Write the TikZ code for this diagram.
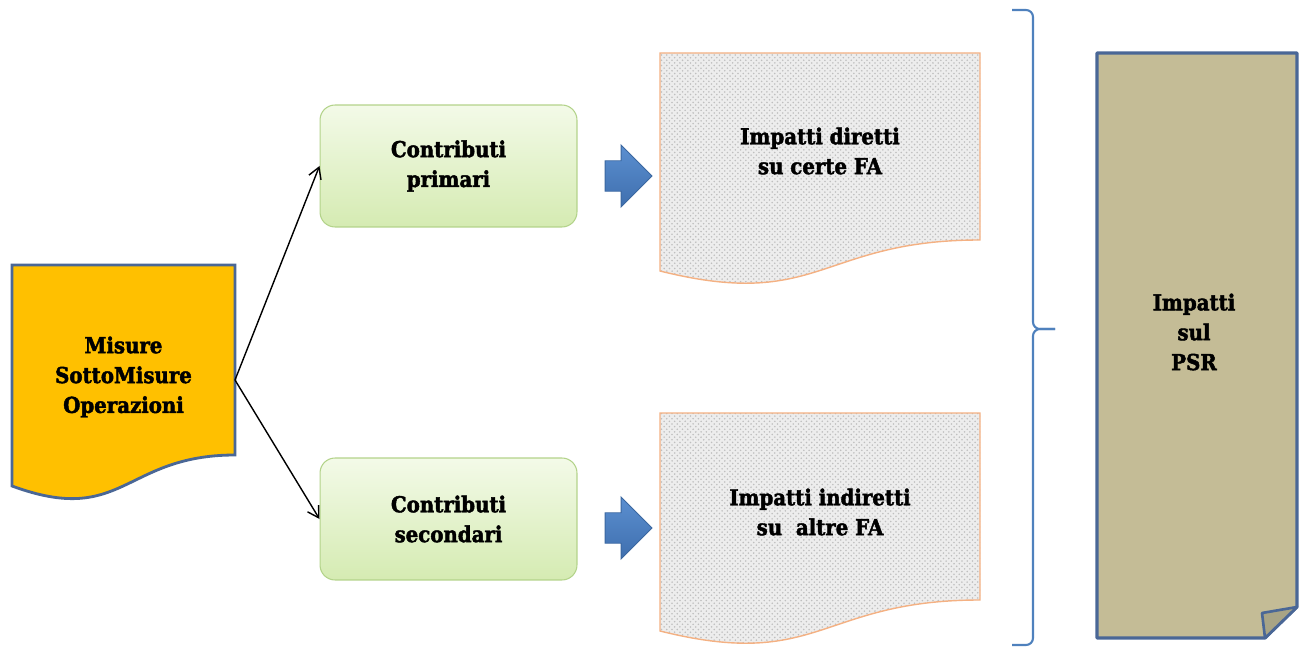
\documentclass[tikz,border=0pt]{standalone}
\usepackage{fontspec}
\setmainfont{DejaVu Serif Condensed}[BoldFeatures={FakeBold=2}]
\usetikzlibrary{arrows.meta}
\usetikzlibrary{patterns}
\usetikzlibrary{shapes.arrows}

\definecolor{misfill}{HTML}{FFC000}
\definecolor{docedge}{HTML}{4A6796}
\definecolor{tanfill}{HTML}{C4BC96}
\definecolor{foldfill}{HTML}{A8A485}
\definecolor{boxtop}{HTML}{F3FAE8}
\definecolor{boxbot}{HTML}{D5EBB2}
\definecolor{boxedge}{HTML}{B3D38A}
\definecolor{grayfill}{HTML}{EDEDED}
\definecolor{grayedge}{HTML}{F4B183}
\definecolor{arrtop}{HTML}{5B8FD0}
\definecolor{arrbot}{HTML}{3F6FAE}
\definecolor{arredge}{HTML}{3A67A0}
\definecolor{bracecol}{HTML}{4F81BD}

\tikzset{
  txt/.style={align=center,font=\fontsize{12.5}{17}\selectfont\bfseries,inner sep=0pt},
  contrib/.style={txt,rounded corners=0.3cm,minimum width=5.14cm,minimum height=2.44cm,
    draw=boxedge,line width=0.6pt,top color=boxtop,bottom color=boxbot},
  blockarr/.style={single arrow,minimum height=0.94cm,minimum width=1.24cm,
    single arrow head extend=0.31cm,inner xsep=0pt,inner ysep=0.29cm,draw=arredge,line width=0.5pt,
    top color=arrtop,bottom color=arrbot},
  graydoc/.style={draw=grayedge,line width=0.8pt,preaction={fill=grayfill},
    pattern=crosshatch dots,pattern color=gray!50},
  link/.style={line width=0.8pt,-{Straight Barb[length=0.22cm,width=0.26cm]}}
}

\begin{document}
\begin{tikzpicture}[x=0.02cm,y=-0.02cm]
\useasboundingbox (0,0) rectangle (1301,648);

% document shapes
\filldraw[fill=misfill,draw=docedge,line width=1.6pt]
  (12,265) -- (235,265) -- (235,455) .. controls (123.5,455) and (123.5,527) .. (12,486) -- cycle;
\path[graydoc]
  (660,53) -- (980,53) -- (980,240) .. controls (820,240) and (820,311) .. (660,271) -- cycle;
\path[graydoc]
  (660,413) -- (980,413) -- (980,600) .. controls (820,600) and (820,671) .. (660,631) -- cycle;
\filldraw[fill=tanfill,draw=docedge,line width=1.8pt,line join=round]
  (1097,53) -- (1297,53) -- (1297,607) -- (1265,638) -- (1097,638) -- cycle;
\filldraw[fill=foldfill,draw=docedge,line width=1.5pt,line join=round]
  (1297,607) -- (1262,613) -- (1265,638) -- cycle;

% texts
\node[txt] (mis) at (123.5,377) {Misure\\SottoMisure\\Operazioni};
\node[contrib] (prim) at (448.5,166) {Contributi\\primari};
\node[contrib] (sec) at (448.5,519) {Contributi\\secondari};
\node[txt] (dir) at (820,151) {Impatti diretti\\su certe FA};
\node[txt] (ind) at (820,512) {Impatti indiretti\\su\ \ altre FA};
\node[txt] (psr) at (1194,332) {Impatti\\sul\\PSR};

\node[blockarr] (fa1) at (621,176) {};
\node[blockarr] (fa2) at (621,528) {};

\coordinate (misout) at (235,380);
\draw[link] (misout) -- (prim.west);
\draw[link] (misout) -- (sec.west);

% brace
\draw[bracecol,line width=1.2pt,rounded corners=0.14cm]
  (1012,10) -- (1033,10) -- (1033,329) -- (1055,329);
\draw[bracecol,line width=1.2pt,rounded corners=0.14cm]
  (1012,645) -- (1033,645) -- (1033,329) -- (1055,329);
\end{tikzpicture}
\end{document}
